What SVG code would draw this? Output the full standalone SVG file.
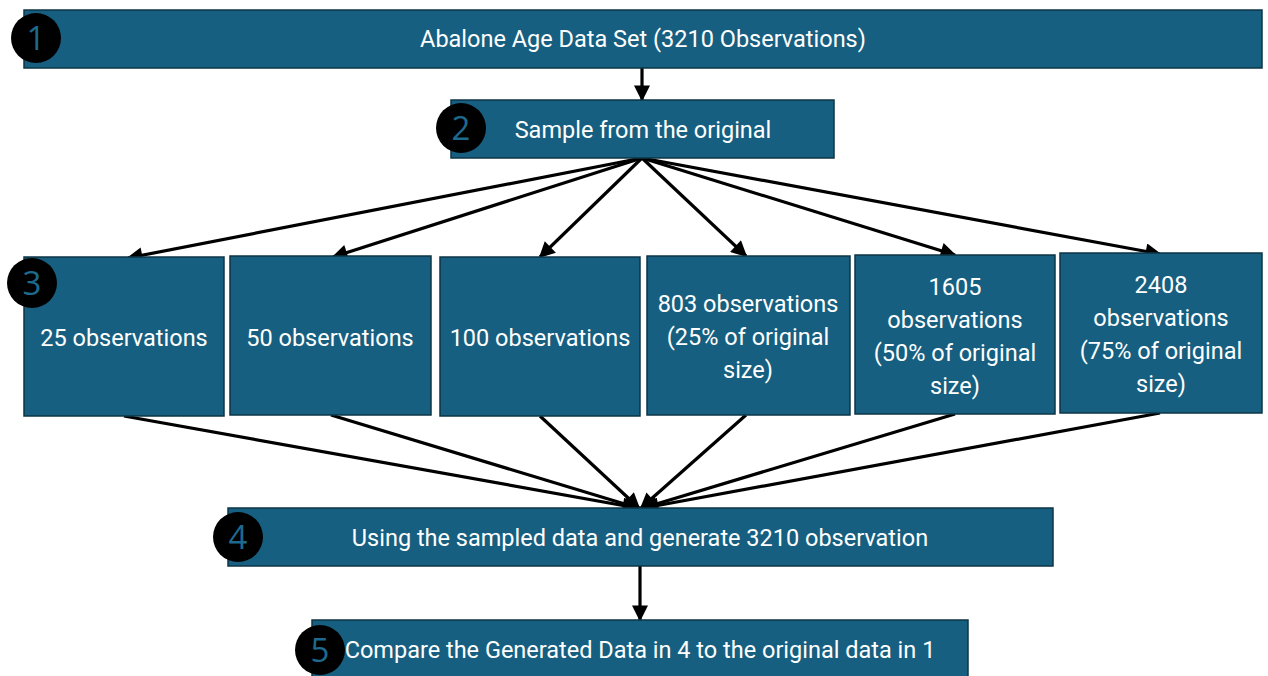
<svg xmlns="http://www.w3.org/2000/svg" width="1268" height="676" viewBox="0 0 1268 676">
  <style>
    .box { fill: #175f80; stroke: #0e3446; stroke-width: 1.5; }
    .lbl { fill: #ffffff; font-family: Roboto, "Liberation Sans", sans-serif; font-size: 23.5px; text-anchor: middle; }
    .badge { fill: #000000; }
    .num { fill: #1d6a8e; font-family: "Open Sans", "Liberation Sans", sans-serif; font-size: 33px; text-anchor: middle; }
    .edge { stroke: #000000; stroke-width: 3.2; fill: none; marker-end: url(#arrow); }
  </style>
  <defs>
    <marker id="arrow" viewBox="0 0 10 10" refX="9" refY="5" markerWidth="5.5" markerHeight="5" orient="auto" markerUnits="strokeWidth">
      <path d="M0,0 L10,5 L0,10 z" fill="#000000"/>
    </marker>
  </defs>
  <rect width="1268" height="676" fill="#ffffff"/>

  <g id="connectors">
    <line class="edge" x1="642" y1="68" x2="642" y2="100"/>
    <line class="edge" x1="642" y1="158" x2="128" y2="258"/>
    <line class="edge" x1="642" y1="158" x2="333" y2="257"/>
    <line class="edge" x1="642" y1="158" x2="540" y2="257"/>
    <line class="edge" x1="642" y1="158" x2="746" y2="256"/>
    <line class="edge" x1="642" y1="158" x2="955" y2="255"/>
    <line class="edge" x1="642" y1="158" x2="1160" y2="254"/>
    <line class="edge" x1="124" y1="416" x2="637" y2="508"/>
    <line class="edge" x1="331" y1="415" x2="638" y2="508"/>
    <line class="edge" x1="540" y1="416" x2="639" y2="508"/>
    <line class="edge" x1="746" y1="415" x2="641" y2="508"/>
    <line class="edge" x1="955" y1="414" x2="643" y2="508"/>
    <line class="edge" x1="1160" y1="413" x2="644" y2="508"/>
    <line class="edge" x1="640" y1="566" x2="640" y2="620"/>
  </g>

  <g id="node1">
    <rect class="box" x="24" y="10" width="1238" height="58"/>
    <text class="lbl" x="643" y="47">Abalone Age Data Set (3210 Observations)</text>
    <circle class="badge" cx="36" cy="38" r="25"/>
    <text class="num" x="36" y="50">1</text>
  </g>

  <g id="node2">
    <rect class="box" x="451" y="100" width="383" height="58"/>
    <text class="lbl" x="643" y="138">Sample from the original</text>
    <circle class="badge" cx="461" cy="128" r="25"/>
    <text class="num" x="461" y="140">2</text>
  </g>

  <g id="node3a">
    <rect class="box" x="24" y="257" width="200" height="159"/>
    <text class="lbl" x="124" y="346">25 observations</text>
    <circle class="badge" cx="32" cy="283" r="25"/>
    <text class="num" x="32" y="295">3</text>
  </g>

  <g id="node3b">
    <rect class="box" x="230" y="256" width="201" height="159"/>
    <text class="lbl" x="330" y="346">50 observations</text>
  </g>

  <g id="node3c">
    <rect class="box" x="440" y="257" width="200" height="159"/>
    <text class="lbl" x="540" y="346">100 observations</text>
  </g>

  <g id="node3d">
    <rect class="box" x="647" y="256" width="203" height="159"/>
    <text class="lbl" x="748" y="312">803 observations</text>
    <text class="lbl" x="748" y="345">(25% of original</text>
    <text class="lbl" x="748" y="378">size)</text>
  </g>

  <g id="node3e">
    <rect class="box" x="855" y="255" width="200" height="159"/>
    <text class="lbl" x="955" y="295">1605</text>
    <text class="lbl" x="955" y="328">observations</text>
    <text class="lbl" x="955" y="361">(50% of original</text>
    <text class="lbl" x="955" y="394">size)</text>
  </g>

  <g id="node3f">
    <rect class="box" x="1060" y="253" width="202" height="160"/>
    <text class="lbl" x="1161" y="293">2408</text>
    <text class="lbl" x="1161" y="326">observations</text>
    <text class="lbl" x="1161" y="359">(75% of original</text>
    <text class="lbl" x="1161" y="392">size)</text>
  </g>

  <g id="node4">
    <rect class="box" x="228" y="508" width="825" height="58"/>
    <text class="lbl" x="640" y="546">Using the sampled data and generate 3210 observation</text>
    <circle class="badge" cx="238" cy="537" r="25"/>
    <text class="num" x="238" y="549">4</text>
  </g>

  <g id="node5">
    <rect class="box" x="312" y="620" width="656" height="62"/>
    <text class="lbl" x="640" y="658">Compare the Generated Data in 4 to the original data in 1</text>
    <circle class="badge" cx="320" cy="650" r="25"/>
    <text class="num" x="320" y="662">5</text>
  </g>
</svg>
